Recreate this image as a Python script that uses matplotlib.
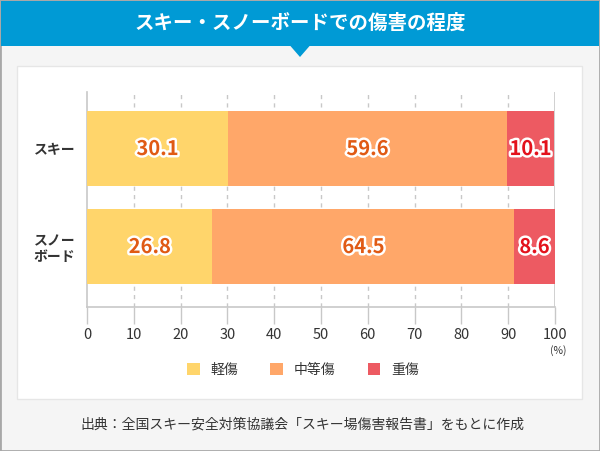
import matplotlib.pyplot as plt
from matplotlib.patches import Rectangle, Polygon, Patch
import matplotlib.patheffects as pe

plt.rcParams['font.family'] = ['Noto Sans CJK JP', 'DejaVu Sans']

categories = ["スキー", "スノー\nボード"]
series_names = ["軽傷", "中等傷", "重傷"]
light = [30.1, 26.8]
moderate = [59.6, 64.5]
severe = [10.1, 8.6]
ticks = [0, 10, 20, 30, 40, 50, 60, 70, 80, 90, 100]

colors = ["#ffd56b", "#ffa769", "#ed5a62"]
label_colors = ["#e05a14", "#e05a14", "#e3121c"]

W, H = 600, 451
fig = plt.figure(figsize=(W / 100, H / 100), dpi=100)


def fx(px):
    return px / W


def fy(py):
    return 1 - py / H


# backgrounds
fig.patches.append(Rectangle((0, 0), 1, 1, transform=fig.transFigure,
                             facecolor="#f5f5f5", edgecolor="#a8a8a8", lw=2, zorder=-10))
fig.patches.append(Rectangle((fx(17), fy(399)), fx(565), 333 / H, transform=fig.transFigure,
                             facecolor="white", edgecolor="#e6e6e6", lw=1, zorder=-9))
fig.patches.append(Rectangle((fx(1), fy(46)), fx(598), 45 / H, transform=fig.transFigure,
                             facecolor="#009ad5", edgecolor="none", zorder=-8))
fig.patches.append(Polygon([(fx(290), fy(45.5)), (fx(310), fy(45.5)), (fx(300), fy(57))],
                           closed=True, transform=fig.transFigure,
                           facecolor="#009ad5", edgecolor="none", zorder=-8))
fig.text(0.5, fy(23), "スキー・スノーボードでの傷害の程度", color="white",
         fontsize=14, fontweight="bold", ha="center", va="center")

# plot area
ax = fig.add_axes([fx(87), fy(307), fx(468), 215 / H])
ax.set_facecolor("none")
ypos = list(range(len(categories)))
lefts = [0] * len(categories)
for vals, c, tc in zip([light, moderate, severe], colors, label_colors):
    bars = ax.barh(ypos, vals, left=lefts, height=0.765, color=c, zorder=3)
    for b, v in zip(bars, vals):
        ax.text(b.get_x() + b.get_width() / 2, b.get_y() + b.get_height() / 2, f"{v}",
                ha="center", va="center", color=tc, fontsize=14.5, fontweight="bold",
                zorder=5,
                path_effects=[pe.withStroke(linewidth=3.5, foreground="white")])
    lefts = [l + v for l, v in zip(lefts, vals)]

ax.set_xlim(0, 100)
ax.set_ylim(1.617, -0.577)
ax.set_xticks(ticks)
ax.set_xticklabels([str(t) for t in ticks], fontsize=10.5, color="#333333")
ax.set_yticks(ypos)
ax.set_yticklabels(categories, fontsize=10, fontweight="bold", color="#333333",
                   linespacing=1.2)
ax.tick_params(axis="y", length=0, pad=8.5)
ax.tick_params(axis="x", length=12, width=1, color="#c8c8c8", pad=3)
for t in ticks[1:-1]:
    ax.axvline(t, color="#c8c8c8", lw=1, ls=(0, (3, 3)), zorder=1)
for s in ["top", "right"]:
    ax.spines[s].set_visible(False)
ax.axvline(100, color="#c8c8c8", lw=1.2, zorder=1)
ax.spines["left"].set_color("#c8c8c8")
ax.spines["left"].set_linewidth(1.2)
ax.spines["bottom"].set_color("#c8c8c8")
ax.spines["bottom"].set_linewidth(1.2)

fig.text(fx(558), fy(351), "(%)", fontsize=7.5, color="#333333", ha="center", va="center")

handles = [Patch(facecolor=c, edgecolor="none") for c in colors]
fig.legend(handles, series_names, loc="center", bbox_to_anchor=(fx(303), fy(370)),
           ncol=3, frameon=False, fontsize=10, handlelength=0.9, handleheight=0.9,
           handletextpad=0.8, columnspacing=2.3, labelcolor="#333333")

fig.text(fx(80), fy(425), "出典：全国スキー安全対策協議会「スキー場傷害報告書」をもとに作成",
         fontsize=10, color="#333333", ha="left", va="center")

fig.savefig("out.png", dpi=100)
